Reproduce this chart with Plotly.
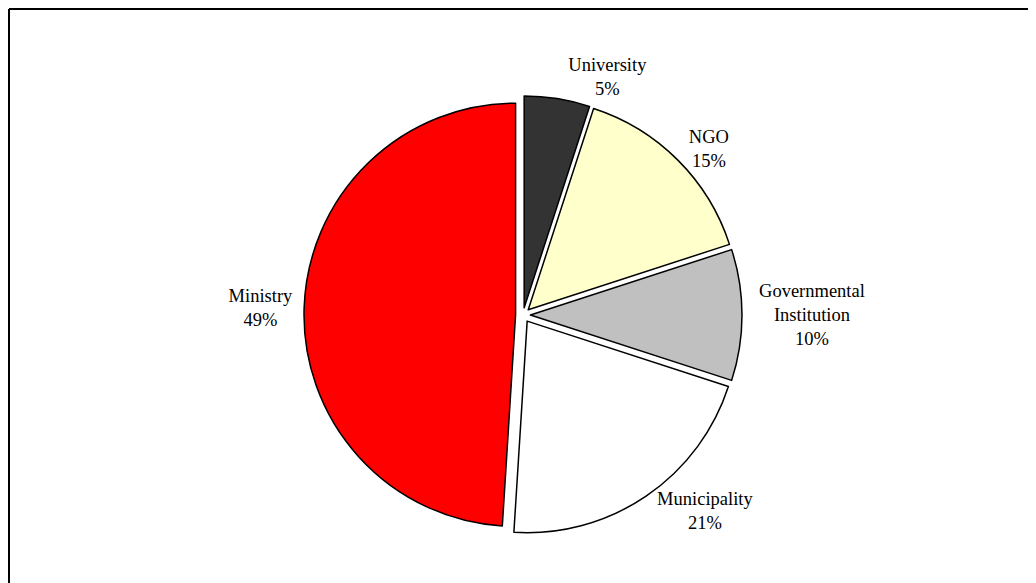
import plotly.graph_objects as go

labels = ["University", "NGO", "Governmental<br>Institution", "Municipality", "Ministry"]
values = [5, 15, 10, 21, 49]
colors = ["#333333", "#FFFFCC", "#C0C0C0", "#FFFFFF", "#FF0000"]

W, H = 1036, 583
ml, mr, mt, mb = 32, 38, 88, 57
FONT = "Liberation Serif, Times New Roman, serif"

fig = go.Figure(go.Pie(
    labels=labels,
    values=values,
    sort=False,
    direction="clockwise",
    rotation=0,
    pull=0.035,
    marker=dict(colors=colors, line=dict(color="#000000", width=1.5)),
    textinfo="label+percent",
    textposition="outside",
    outsidetextfont=dict(family=FONT, size=18.5, color="#000000"),
    hoverinfo="label+percent",
    showlegend=False,
))

pw = W - ml - mr
ph = H - mt - mb
fig.update_layout(
    width=W, height=H,
    margin=dict(l=ml, r=mr, t=mt, b=mb, pad=0, autoexpand=False),
    paper_bgcolor="#FFFFFF",
    font=dict(family=FONT, size=18.5, color="#000000"),
    shapes=[
        dict(type="line", xref="paper", yref="paper",
             x0=-(ml - 1) / pw, x1=(W - ml) / pw,
             y0=1 + (mt - 1) / ph, y1=1 + (mt - 1) / ph,
             line=dict(color="#000000", width=2)),
        dict(type="line", xref="paper", yref="paper",
             x0=-(ml - 1) / pw, x1=-(ml - 1) / pw,
             y0=-mb / ph, y1=1 + (mt - 1) / ph,
             line=dict(color="#000000", width=2)),
    ],
)

fig.write_html("out.html")
